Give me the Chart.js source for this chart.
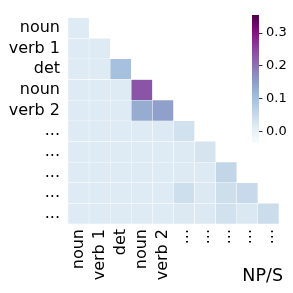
<!DOCTYPE html>
<html>
<head>
<meta charset="utf-8">
<script src="https://cdn.jsdelivr.net/npm/chart.js@4.4.1/dist/chart.umd.min.js"></script>
<style>
  body { margin: 0; background: #fff; }
  #wrap { position: relative; width: 293px; height: 293px; }
  #main { position: absolute; left: 0; top: 0; }
  #cbar { position: absolute; left: 240px; top: 0; }
</style>
</head>
<body>
<div id="wrap">
  <canvas id="main" width="293" height="293"></canvas>
  <canvas id="cbar" width="53" height="160"></canvas>
</div>
<script>
const rowLabels = ['noun', 'verb 1', 'det', 'noun', 'verb 2', '...', '...', '...', '...', '...'];
const colLabels = ['noun', 'verb 1', 'det', 'noun', 'verb 2', '...', '...', '...', '...', '...'];

// lower triangle, row i has i+1 values
const cellValues = [
    [0.015],
    [0.015, 0.015],
    [0.015, 0.015, 0.100],
    [0.015, 0.015, 0.015, 0.234],
    [0.015, 0.015, 0.015, 0.132, 0.147],
    [0.015, 0.015, 0.015, 0.015, 0.018, 0.035],
    [0.015, 0.015, 0.015, 0.015, 0.015, 0.018, 0.030],
    [0.015, 0.015, 0.015, 0.015, 0.015, 0.018, 0.018, 0.057],
    [0.015, 0.015, 0.015, 0.015, 0.015, 0.042, 0.020, 0.040, 0.050],
    [0.015, 0.015, 0.015, 0.015, 0.015, 0.020, 0.020, 0.035, 0.022, 0.045]
];

const vmin = -0.035;
const vmax = 0.355;
const cbarTicks = [0.0, 0.1, 0.2, 0.3];

const bupu = ['#f7fcfd', '#e0ecf4', '#bfd3e6', '#9ebcda', '#8c96c6', '#8c6bb1', '#88419d', '#810f7c', '#4d004b'];

function hexToRgb(h) {
    return [parseInt(h.slice(1, 3), 16), parseInt(h.slice(3, 5), 16), parseInt(h.slice(5, 7), 16)];
}

function colorFor(v) {
    let t = (v - vmin) / (vmax - vmin);
    t = Math.max(0, Math.min(1, t));
    const pos = t * (bupu.length - 1);
    const i = Math.min(Math.floor(pos), bupu.length - 2);
    const f = pos - i;
    const a = hexToRgb(bupu[i]);
    const b = hexToRgb(bupu[i + 1]);
    const c = a.map((x, k) => Math.round(x + (b[k] - x) * f));
    return `rgb(${c[0]},${c[1]},${c[2]})`;
}

const font = 'DejaVu Sans';

const datasets = rowLabels.map((_, r) => ({
    data: colLabels.map((_, c) => c <= r ? [r - 0.5, r + 0.5] : null),
    backgroundColor: colLabels.map((_, c) => c <= r ? colorFor(cellValues[r][c]) : 'transparent'),
    borderColor: 'rgba(255,255,255,0.7)',
    borderWidth: 0.5,
    borderSkipped: false,
    grouped: false,
    barPercentage: 1,
    categoryPercentage: 1
}));

const cornerLabel = {
    id: 'cornerLabel',
    afterDraw(chart) {
        const ctx = chart.ctx;
        ctx.save();
        ctx.font = `17.5px "${font}"`;
        ctx.fillStyle = '#000';
        ctx.textAlign = 'right';
        ctx.textBaseline = 'alphabetic';
        ctx.fillText('NP/S', 283, 281);
        ctx.restore();
    }
};

new Chart(document.getElementById('main'), {
    type: 'bar',
    data: { labels: colLabels, datasets: datasets },
    options: {
        responsive: false,
        animation: false,
        layout: { padding: { left: 0, right: 8, top: 7, bottom: 0 }, autoPadding: false },
        plugins: { legend: { display: false }, tooltip: { enabled: false } },
        scales: {
            x: {
                type: 'category',
                grid: { display: false, drawTicks: false },
                border: { display: false },
                ticks: {
                    minRotation: 90, maxRotation: 90, autoSkip: false,
                    padding: 5, color: '#000',
                    font: { family: font, size: 16 }
                },
                afterFit(scale) { scale.height = 69; }
            },
            y: {
                type: 'linear',
                min: -0.5, max: 9.5, reverse: true,
                grid: { display: false, drawTicks: false },
                border: { display: false },
                afterBuildTicks(scale) {
                    scale.ticks = rowLabels.map((_, i) => ({ value: i }));
                },
                ticks: {
                    padding: 8, color: '#000',
                    font: { family: font, size: 16 },
                    callback: (v, i) => rowLabels[i]
                },
                afterFit(scale) { scale.width = 68; }
            }
        }
    },
    plugins: [cornerLabel]
});

new Chart(document.getElementById('cbar'), {
    type: 'bar',
    data: {
        labels: ['cb'],
        datasets: [{
            data: [[vmin, vmax]],
            backgroundColor(ctx) {
                const area = ctx.chart.chartArea;
                if (!area) return null;
                const g = ctx.chart.ctx.createLinearGradient(0, area.bottom, 0, area.top);
                bupu.forEach((c, i) => g.addColorStop(i / (bupu.length - 1), c));
                return g;
            },
            borderWidth: 0,
            barPercentage: 1,
            categoryPercentage: 1
        }]
    },
    options: {
        responsive: false,
        animation: false,
        layout: { padding: { left: 12, right: 0, top: 15, bottom: 17 }, autoPadding: false },
        plugins: { legend: { display: false }, tooltip: { enabled: false } },
        scales: {
            x: { display: false },
            y: {
                position: 'right',
                min: vmin, max: vmax,
                grid: { drawOnChartArea: false, tickLength: 3.5, color: '#000', tickWidth: 0.8 },
                border: { display: false },
                afterBuildTicks(scale) {
                    scale.ticks = cbarTicks.map(v => ({ value: v }));
                },
                ticks: {
                    padding: 3.5, color: '#000',
                    font: { family: font, size: 13 },
                    callback: v => v.toFixed(1)
                },
                afterFit(scale) { scale.width = 34; }
            }
        }
    }
});
</script>
</body>
</html>
